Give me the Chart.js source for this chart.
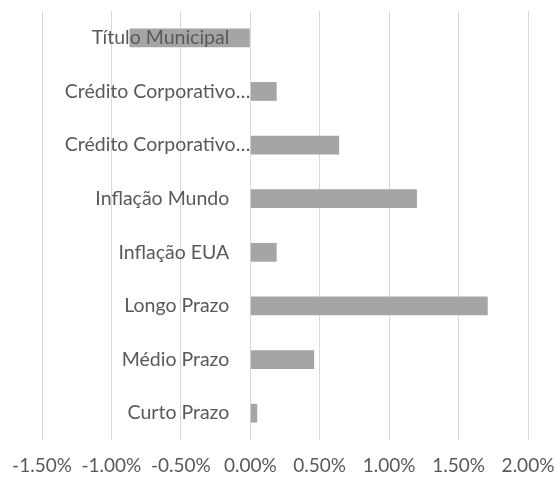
<!DOCTYPE html>
<html><head><meta charset="utf-8">
<script src="https://cdn.jsdelivr.net/npm/chart.js@4"></script>
<style>html,body{margin:0;padding:0;background:#fff;overflow:hidden}canvas{display:block}</style>
</head><body><canvas id="c" width="560" height="487"></canvas>
<script>
const categories = ["Título Municipal","Crédito Corporativo…","Crédito Corporativo…","Inflação Mundo","Inflação EUA","Longo Prazo","Médio Prazo","Curto Prazo"];
const values = [-0.87, 0.19, 0.64, 1.20, 0.19, 1.71, 0.46, 0.05];
const tickValues = [-1.5, -1.0, -0.5, 0.0, 0.5, 1.0, 1.5, 2.0];

const labelPlugin = {
  id: 'catLabels',
  afterDatasetsDraw(chart) {
    const {ctx, scales: {x, y}} = chart;
    const x0 = x.getPixelForValue(0);
    ctx.save();
    ctx.font = '19.5px Lato';
    ctx.fillStyle = '#595959';
    ctx.textAlign = 'right';
    ctx.textBaseline = 'middle';
    categories.forEach((c, i) => {
      const yy = y.getPixelForValue(i);
      const off = c.endsWith('…') ? 0 : 21;
      ctx.fillText(c, x0 - off, yy);
    });
    ctx.restore();
  }
};

new Chart(document.getElementById('c'), {
  type: 'bar',
  data: { labels: categories, datasets: [{ data: values, backgroundColor: '#a5a5a5', borderWidth: 0, barPercentage: 0.35, categoryPercentage: 1 }] },
  options: {
    indexAxis: 'y', responsive: false, animation: false, devicePixelRatio: 1,
    layout: { padding: { left: 42, right: 32, top: 11, bottom: 10 } },
    plugins: { legend: { display: false }, tooltip: { enabled: false } },
    scales: {
      x: {
        min: -1.5, max: 2.0,
        afterBuildTicks(s) { s.ticks = tickValues.map(v => ({ value: v })); },
        afterFit(s) { s.height = 37; s.paddingLeft = 0; s.paddingRight = 0; },
        ticks: { callback: v => v.toFixed(2) + '%', color: '#595959', font: { family: 'Lato', size: 19 }, padding: 14.5, maxRotation: 0, autoSkip: false },
        grid: { color: '#d9d9d9', lineWidth: 1, drawTicks: false },
        border: { display: false }
      },
      y: {
        display: true,
        ticks: { display: false },
        grid: { display: false, drawTicks: false },
        border: { display: false },
        afterFit(s) { s.width = 0; s.paddingTop = 0; s.paddingBottom = 0; }
      }
    }
  },
  plugins: [labelPlugin]
});
</script></body></html>
